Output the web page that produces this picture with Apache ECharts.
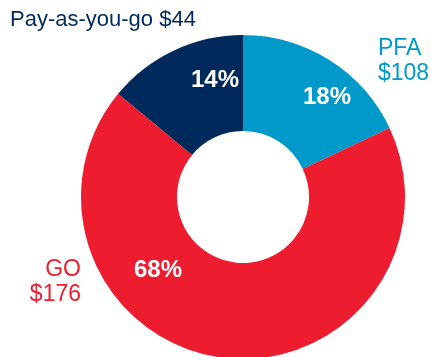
<!DOCTYPE html>
<html>
<head>
<meta charset="utf-8">
<script src="https://cdn.jsdelivr.net/npm/echarts@6/dist/echarts.min.js"></script>
<style>
html,body{margin:0;padding:0;background:#fff;}
#chart{width:431px;height:357px;}
</style>
</head>
<body>
<div id="chart"></div>
<script>
// Data
var categories = ['PFA', 'GO', 'Pay-as-you-go'];
var shares = [18, 68, 14];          // percent of total (slice sizes)
var dollars = ['$108', '$176', '$44'];
var colors = ['#0099c9', '#ed1c2e', '#002a5c'];

var chart = echarts.init(document.getElementById('chart'), null, {renderer: 'canvas'});

var data = categories.map(function (c, i) {
  return {name: c, value: shares[i], itemStyle: {color: colors[i]}};
});

// label anchor positions (layout, not data)
var innerPos = [[327, 97], [158, 270], [215, 80]];
var outerPos = [
  {x: 378, y: 61, align: 'left', size: 23},
  {x: 81, y: 282, align: 'right', size: 23},
  {x: 10, y: 20, align: 'left', size: 22}
];
var outerFont = '"Liberation Sans", Arial, sans-serif';

var option = {
  animation: false,
  backgroundColor: '#fff',
  series: [
    {
      type: 'pie',
      center: [243, 197],
      radius: [66, 162],
      startAngle: 90,
      clockwise: true,
      silent: true,
      data: data,
      itemStyle: {borderWidth: 0},
      label: {
        show: true,
        position: 'inside',
        formatter: function (p) { return p.value + '%'; },
        color: '#fff',
        fontFamily: '"Liberation Sans", Arial, sans-serif',
        fontWeight: 'bold',
        fontSize: 24,
        overflow: 'none'
      },
      labelLine: {show: false},
      labelLayout: function (p) {
        var pos = innerPos[p.dataIndex];
        return {x: pos[0], y: pos[1], align: 'center', verticalAlign: 'middle'};
      }
    },
    {
      type: 'pie',
      center: [243, 197],
      radius: [66, 162],
      startAngle: 90,
      clockwise: true,
      silent: true,
      z: 3,
      data: categories.map(function (c, i) {
        return {name: c, value: shares[i], itemStyle: {color: 'rgba(0,0,0,0)'},
          label: {color: colors[i], fontSize: outerPos[i].size}};
      }),
      label: {
        show: true,
        position: 'outside',
        formatter: function (p) {
          return p.dataIndex === 2 ? p.name + ' ' + dollars[p.dataIndex]
                                   : p.name + '\n' + dollars[p.dataIndex];
        },
        fontFamily: outerFont,
        lineHeight: 25,
        overflow: 'none',
        edgeDistance: 0
      },
      labelLine: {show: false},
      labelLayout: function (p) {
        var o = outerPos[p.dataIndex];
        return {x: o.x, y: o.y, align: o.align, verticalAlign: 'middle', width: 300};
      }
    }
  ]
};
chart.setOption(option);
</script>
</body>
</html>
